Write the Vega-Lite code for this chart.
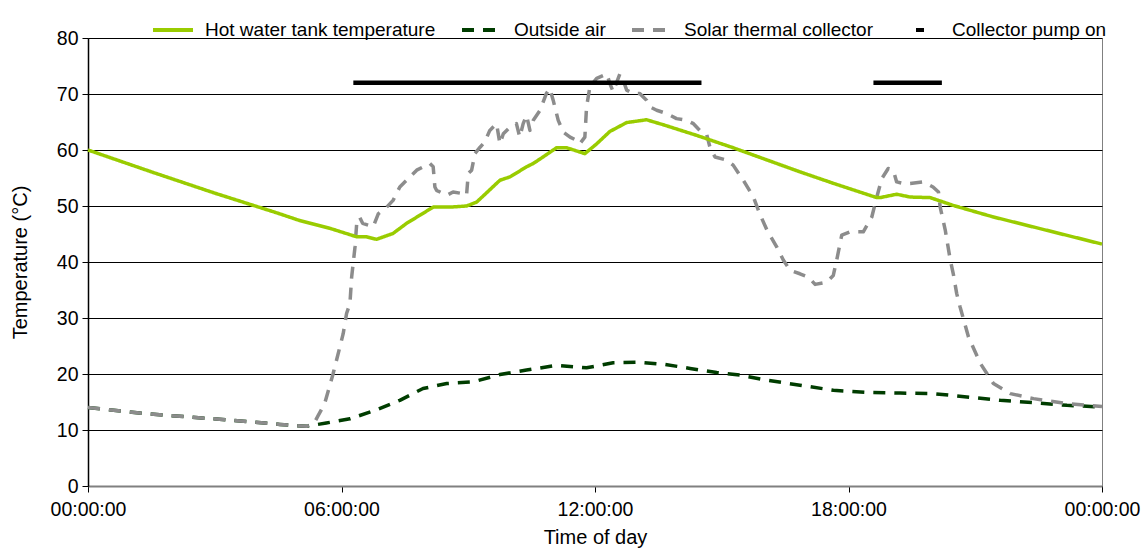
{
  "$schema": "https://vega.github.io/schema/vega-lite/v6.json",
  "width": 1014,
  "height": 448,
  "autosize": "none",
  "padding": {"left": 88, "top": 38, "right": 45, "bottom": 65},
  "background": "white",
  "config": {
    "font": "Liberation Sans",
    "view": {"stroke": "#808080", "strokeWidth": 1},
    "axis": {"labelFont": "Liberation Sans", "titleFont": "Liberation Sans", "labelFontSize": 19.5, "titleFontSize": 20, "labelColor": "#000", "titleColor": "#000", "titleFontWeight": "normal", "tickColor": "#000", "domainColor": "#000", "gridColor": "#000", "gridWidth": 1, "gridOpacity": 1, "tickSize": 6}
  },
  "datasets": {
    "temps": [
      {"series": "Outside air", "h": 0, "v": 14.0},
      {"series": "Outside air", "h": 1.38, "v": 12.9},
      {"series": "Outside air", "h": 2.96, "v": 12.0},
      {"series": "Outside air", "h": 4.54, "v": 11.0},
      {"series": "Outside air", "h": 5.17, "v": 10.66},
      {"series": "Outside air", "h": 5.64, "v": 11.25},
      {"series": "Outside air", "h": 6.2, "v": 12.0},
      {"series": "Outside air", "h": 6.83, "v": 13.6},
      {"series": "Outside air", "h": 7.38, "v": 15.3},
      {"series": "Outside air", "h": 7.93, "v": 17.4},
      {"series": "Outside air", "h": 8.49, "v": 18.3},
      {"series": "Outside air", "h": 9.12, "v": 18.6},
      {"series": "Outside air", "h": 9.75, "v": 19.9},
      {"series": "Outside air", "h": 10.38, "v": 20.7},
      {"series": "Outside air", "h": 11.09, "v": 21.55},
      {"series": "Outside air", "h": 11.8, "v": 21.1},
      {"series": "Outside air", "h": 12.43, "v": 22.0},
      {"series": "Outside air", "h": 13.06, "v": 22.1},
      {"series": "Outside air", "h": 13.66, "v": 21.7},
      {"series": "Outside air", "h": 14.25, "v": 21.0},
      {"series": "Outside air", "h": 14.88, "v": 20.25},
      {"series": "Outside air", "h": 15.43, "v": 19.8},
      {"series": "Outside air", "h": 16.07, "v": 18.9},
      {"series": "Outside air", "h": 16.85, "v": 18.0},
      {"series": "Outside air", "h": 17.64, "v": 17.1},
      {"series": "Outside air", "h": 18.43, "v": 16.7},
      {"series": "Outside air", "h": 19.22, "v": 16.6},
      {"series": "Outside air", "h": 20.0, "v": 16.5},
      {"series": "Outside air", "h": 20.8, "v": 15.9},
      {"series": "Outside air", "h": 21.59, "v": 15.3},
      {"series": "Outside air", "h": 22.38, "v": 14.9},
      {"series": "Outside air", "h": 23.17, "v": 14.4},
      {"series": "Outside air", "h": 24, "v": 14.1},

      {"series": "Solar thermal collector", "h": 0, "v": 14.0},
      {"series": "Solar thermal collector", "h": 1.38, "v": 12.9},
      {"series": "Solar thermal collector", "h": 2.96, "v": 12.0},
      {"series": "Solar thermal collector", "h": 4.54, "v": 11.0},
      {"series": "Solar thermal collector", "h": 5.17, "v": 10.66},
      {"series": "Solar thermal collector", "h": 5.35, "v": 11.2},
      {"series": "Solar thermal collector", "h": 5.45, "v": 12.6},
      {"series": "Solar thermal collector", "h": 5.6, "v": 14.7},
      {"series": "Solar thermal collector", "h": 5.8, "v": 20.0},
      {"series": "Solar thermal collector", "h": 6.04, "v": 27.2},
      {"series": "Solar thermal collector", "h": 6.12, "v": 30.8},
      {"series": "Solar thermal collector", "h": 6.2, "v": 32.6},
      {"series": "Solar thermal collector", "h": 6.24, "v": 37.3},
      {"series": "Solar thermal collector", "h": 6.32, "v": 42.7},
      {"series": "Solar thermal collector", "h": 6.36, "v": 46.9},
      {"series": "Solar thermal collector", "h": 6.43, "v": 48.0},
      {"series": "Solar thermal collector", "h": 6.5, "v": 46.9},
      {"series": "Solar thermal collector", "h": 6.75, "v": 46.3},
      {"series": "Solar thermal collector", "h": 6.87, "v": 48.6},
      {"series": "Solar thermal collector", "h": 7.07, "v": 49.8},
      {"series": "Solar thermal collector", "h": 7.22, "v": 51.0},
      {"series": "Solar thermal collector", "h": 7.38, "v": 53.4},
      {"series": "Solar thermal collector", "h": 7.54, "v": 54.6},
      {"series": "Solar thermal collector", "h": 7.78, "v": 56.4},
      {"series": "Solar thermal collector", "h": 8.09, "v": 57.6},
      {"series": "Solar thermal collector", "h": 8.17, "v": 57.0},
      {"series": "Solar thermal collector", "h": 8.21, "v": 53.4},
      {"series": "Solar thermal collector", "h": 8.25, "v": 52.8},
      {"series": "Solar thermal collector", "h": 8.49, "v": 51.9},
      {"series": "Solar thermal collector", "h": 8.64, "v": 52.5},
      {"series": "Solar thermal collector", "h": 8.88, "v": 52.2},
      {"series": "Solar thermal collector", "h": 8.96, "v": 51.9},
      {"series": "Solar thermal collector", "h": 9.0, "v": 55.8},
      {"series": "Solar thermal collector", "h": 9.08, "v": 56.4},
      {"series": "Solar thermal collector", "h": 9.16, "v": 59.4},
      {"series": "Solar thermal collector", "h": 9.28, "v": 60.5},
      {"series": "Solar thermal collector", "h": 9.39, "v": 61.4},
      {"series": "Solar thermal collector", "h": 9.51, "v": 63.5},
      {"series": "Solar thermal collector", "h": 9.67, "v": 64.7},
      {"series": "Solar thermal collector", "h": 9.75, "v": 61.1},
      {"series": "Solar thermal collector", "h": 9.83, "v": 62.9},
      {"series": "Solar thermal collector", "h": 9.99, "v": 64.1},
      {"series": "Solar thermal collector", "h": 10.14, "v": 64.7},
      {"series": "Solar thermal collector", "h": 10.22, "v": 62.3},
      {"series": "Solar thermal collector", "h": 10.3, "v": 64.7},
      {"series": "Solar thermal collector", "h": 10.38, "v": 66.2},
      {"series": "Solar thermal collector", "h": 10.46, "v": 63.5},
      {"series": "Solar thermal collector", "h": 10.54, "v": 65.3},
      {"series": "Solar thermal collector", "h": 10.7, "v": 67.1},
      {"series": "Solar thermal collector", "h": 10.85, "v": 70.1},
      {"series": "Solar thermal collector", "h": 10.93, "v": 71.0},
      {"series": "Solar thermal collector", "h": 11.01, "v": 68.9},
      {"series": "Solar thermal collector", "h": 11.13, "v": 65.3},
      {"series": "Solar thermal collector", "h": 11.25, "v": 63.2},
      {"series": "Solar thermal collector", "h": 11.41, "v": 62.3},
      {"series": "Solar thermal collector", "h": 11.57, "v": 61.7},
      {"series": "Solar thermal collector", "h": 11.64, "v": 61.1},
      {"series": "Solar thermal collector", "h": 11.76, "v": 62.3},
      {"series": "Solar thermal collector", "h": 11.8, "v": 67.7},
      {"series": "Solar thermal collector", "h": 11.88, "v": 71.3},
      {"series": "Solar thermal collector", "h": 12.04, "v": 72.8},
      {"series": "Solar thermal collector", "h": 12.28, "v": 73.6},
      {"series": "Solar thermal collector", "h": 12.35, "v": 71.9},
      {"series": "Solar thermal collector", "h": 12.43, "v": 70.4},
      {"series": "Solar thermal collector", "h": 12.59, "v": 73.6},
      {"series": "Solar thermal collector", "h": 12.67, "v": 72.4},
      {"series": "Solar thermal collector", "h": 12.75, "v": 70.7},
      {"series": "Solar thermal collector", "h": 12.9, "v": 70.1},
      {"series": "Solar thermal collector", "h": 13.06, "v": 70.1},
      {"series": "Solar thermal collector", "h": 13.22, "v": 68.9},
      {"series": "Solar thermal collector", "h": 13.3, "v": 67.7},
      {"series": "Solar thermal collector", "h": 13.46, "v": 67.1},
      {"series": "Solar thermal collector", "h": 13.7, "v": 66.5},
      {"series": "Solar thermal collector", "h": 13.93, "v": 65.6},
      {"series": "Solar thermal collector", "h": 14.17, "v": 65.3},
      {"series": "Solar thermal collector", "h": 14.33, "v": 64.7},
      {"series": "Solar thermal collector", "h": 14.48, "v": 63.5},
      {"series": "Solar thermal collector", "h": 14.64, "v": 62.9},
      {"series": "Solar thermal collector", "h": 14.72, "v": 60.5},
      {"series": "Solar thermal collector", "h": 14.84, "v": 58.75},
      {"series": "Solar thermal collector", "h": 15.12, "v": 58.2},
      {"series": "Solar thermal collector", "h": 15.27, "v": 57.3},
      {"series": "Solar thermal collector", "h": 15.51, "v": 54.6},
      {"series": "Solar thermal collector", "h": 15.75, "v": 51.6},
      {"series": "Solar thermal collector", "h": 15.9, "v": 48.6},
      {"series": "Solar thermal collector", "h": 16.07, "v": 45.7},
      {"series": "Solar thermal collector", "h": 16.3, "v": 42.7},
      {"series": "Solar thermal collector", "h": 16.46, "v": 40.3},
      {"series": "Solar thermal collector", "h": 16.62, "v": 38.5},
      {"series": "Solar thermal collector", "h": 16.85, "v": 37.9},
      {"series": "Solar thermal collector", "h": 17.05, "v": 37.3},
      {"series": "Solar thermal collector", "h": 17.21, "v": 36.0},
      {"series": "Solar thermal collector", "h": 17.48, "v": 36.4},
      {"series": "Solar thermal collector", "h": 17.64, "v": 37.6},
      {"series": "Solar thermal collector", "h": 17.72, "v": 40.3},
      {"series": "Solar thermal collector", "h": 17.84, "v": 44.8},
      {"series": "Solar thermal collector", "h": 18.04, "v": 45.4},
      {"series": "Solar thermal collector", "h": 18.35, "v": 45.4},
      {"series": "Solar thermal collector", "h": 18.55, "v": 48.0},
      {"series": "Solar thermal collector", "h": 18.67, "v": 51.6},
      {"series": "Solar thermal collector", "h": 18.79, "v": 54.9},
      {"series": "Solar thermal collector", "h": 18.94, "v": 56.7},
      {"series": "Solar thermal collector", "h": 19.06, "v": 56.4},
      {"series": "Solar thermal collector", "h": 19.14, "v": 54.3},
      {"series": "Solar thermal collector", "h": 19.3, "v": 54.0},
      {"series": "Solar thermal collector", "h": 19.46, "v": 54.0},
      {"series": "Solar thermal collector", "h": 19.77, "v": 54.3},
      {"series": "Solar thermal collector", "h": 20.0, "v": 53.4},
      {"series": "Solar thermal collector", "h": 20.13, "v": 52.5},
      {"series": "Solar thermal collector", "h": 20.17, "v": 49.8},
      {"series": "Solar thermal collector", "h": 20.29, "v": 45.7},
      {"series": "Solar thermal collector", "h": 20.41, "v": 40.3},
      {"series": "Solar thermal collector", "h": 20.48, "v": 37.9},
      {"series": "Solar thermal collector", "h": 20.56, "v": 34.4},
      {"series": "Solar thermal collector", "h": 20.64, "v": 32.0},
      {"series": "Solar thermal collector", "h": 20.84, "v": 26.6},
      {"series": "Solar thermal collector", "h": 21.12, "v": 21.9},
      {"series": "Solar thermal collector", "h": 21.43, "v": 18.3},
      {"series": "Solar thermal collector", "h": 21.83, "v": 16.5},
      {"series": "Solar thermal collector", "h": 22.38, "v": 15.6},
      {"series": "Solar thermal collector", "h": 23.17, "v": 14.7},
      {"series": "Solar thermal collector", "h": 24, "v": 14.2},

      {"series": "Hot water tank temperature", "h": 0, "v": 60.0},
      {"series": "Hot water tank temperature", "h": 1.5, "v": 56.1},
      {"series": "Hot water tank temperature", "h": 3.0, "v": 52.3},
      {"series": "Hot water tank temperature", "h": 4.5, "v": 48.7},
      {"series": "Hot water tank temperature", "h": 5.01, "v": 47.4},
      {"series": "Hot water tank temperature", "h": 5.73, "v": 46.0},
      {"series": "Hot water tank temperature", "h": 6.36, "v": 44.5},
      {"series": "Hot water tank temperature", "h": 6.59, "v": 44.5},
      {"series": "Hot water tank temperature", "h": 6.83, "v": 44.05},
      {"series": "Hot water tank temperature", "h": 7.22, "v": 45.1},
      {"series": "Hot water tank temperature", "h": 7.54, "v": 46.9},
      {"series": "Hot water tank temperature", "h": 8.17, "v": 49.8},
      {"series": "Hot water tank temperature", "h": 8.57, "v": 49.8},
      {"series": "Hot water tank temperature", "h": 8.96, "v": 50.0},
      {"series": "Hot water tank temperature", "h": 9.2, "v": 50.7},
      {"series": "Hot water tank temperature", "h": 9.75, "v": 54.6},
      {"series": "Hot water tank temperature", "h": 9.99, "v": 55.2},
      {"series": "Hot water tank temperature", "h": 10.38, "v": 57.0},
      {"series": "Hot water tank temperature", "h": 10.54, "v": 57.6},
      {"series": "Hot water tank temperature", "h": 10.77, "v": 58.75},
      {"series": "Hot water tank temperature", "h": 11.09, "v": 60.4},
      {"series": "Hot water tank temperature", "h": 11.33, "v": 60.4},
      {"series": "Hot water tank temperature", "h": 11.76, "v": 59.35},
      {"series": "Hot water tank temperature", "h": 12.04, "v": 61.1},
      {"series": "Hot water tank temperature", "h": 12.35, "v": 63.3},
      {"series": "Hot water tank temperature", "h": 12.75, "v": 64.9},
      {"series": "Hot water tank temperature", "h": 13.22, "v": 65.4},
      {"series": "Hot water tank temperature", "h": 13.62, "v": 64.5},
      {"series": "Hot water tank temperature", "h": 14.41, "v": 62.6},
      {"series": "Hot water tank temperature", "h": 15.27, "v": 60.4},
      {"series": "Hot water tank temperature", "h": 16.85, "v": 56.1},
      {"series": "Hot water tank temperature", "h": 17.7, "v": 53.9},
      {"series": "Hot water tank temperature", "h": 18.67, "v": 51.5},
      {"series": "Hot water tank temperature", "h": 18.75, "v": 51.5},
      {"series": "Hot water tank temperature", "h": 19.14, "v": 52.1},
      {"series": "Hot water tank temperature", "h": 19.46, "v": 51.6},
      {"series": "Hot water tank temperature", "h": 19.93, "v": 51.5},
      {"series": "Hot water tank temperature", "h": 20.09, "v": 51.1},
      {"series": "Hot water tank temperature", "h": 20.48, "v": 50.1},
      {"series": "Hot water tank temperature", "h": 21.4, "v": 48.1},
      {"series": "Hot water tank temperature", "h": 22.38, "v": 46.25},
      {"series": "Hot water tank temperature", "h": 24, "v": 43.2}
    ],
    "pump": [
      {"series": "Collector pump on", "start": 6.28, "end": 14.52, "v": 72},
      {"series": "Collector pump on", "start": 18.59, "end": 20.21, "v": 72}
    ]
  },
  "layer": [
    {
      "data": {"name": "temps"},
      "mark": {"type": "line", "strokeWidth": 3.5, "strokeCap": "butt", "strokeJoin": "round"},
      "encoding": {
        "x": {
          "field": "h", "type": "quantitative",
          "scale": {"domain": [0, 24], "nice": false},
          "axis": {
            "title": "Time of day", "values": [0, 6, 12, 18, 24], "grid": false,
            "labelExpr": "(datum.value % 24 < 10 ? '0' : '') + (datum.value % 24) + ':00:00'",
            "domainColor": "#808080", "domainWidth": 2, "tickColor": "#000",
            "labelPadding": 8, "titlePadding": 9, "labelFlush": false
          }
        },
        "y": {
          "field": "v", "type": "quantitative",
          "scale": {"domain": [0, 80], "nice": false},
          "axis": {
            "title": "Temperature (°C)", "values": [0, 10, 20, 30, 40, 50, 60, 70, 80],
            "grid": true, "labelPadding": 4, "titlePadding": 26, "domainWidth": 1.5
          }
        },
        "color": {
          "field": "series", "type": "nominal",
          "scale": {
            "domain": ["Hot water tank temperature", "Outside air", "Solar thermal collector", "Collector pump on"],
            "range": ["#99cc00", "#003d00", "#8c8c8c", "#000000"]
          },
          "legend": {
            "orient": "none", "legendX": 63, "legendY": -30, "direction": "horizontal",
            "title": null, "symbolType": "stroke", "symbolSize": 1600, "symbolStrokeWidth": 4,
            "labelFontSize": 19, "labelFont": "Liberation Sans", "labelColor": "#000",
            "labelOffset": 10, "columnPadding": 18, "labelLimit": 400
          }
        },
        "strokeDash": {
          "field": "series", "type": "nominal",
          "scale": {
            "domain": ["Hot water tank temperature", "Outside air", "Solar thermal collector", "Collector pump on"],
            "range": [[1, 0], [12, 9], [12, 9], [0, 16, 8, 100]]
          },
          "legend": {
            "orient": "none", "legendX": 63, "legendY": -30, "direction": "horizontal",
            "title": null, "symbolType": "stroke", "symbolSize": 1600, "symbolStrokeWidth": 4,
            "labelFontSize": 19, "labelFont": "Liberation Sans", "labelColor": "#000",
            "labelOffset": 10, "columnPadding": 18, "labelLimit": 400
          }
        }
      }
    },
    {
      "data": {"name": "pump"},
      "mark": {"type": "rule", "strokeWidth": 4.5},
      "encoding": {
        "x": {"field": "start", "type": "quantitative"},
        "x2": {"field": "end"},
        "y": {"field": "v", "type": "quantitative"},
        "color": {"field": "series", "type": "nominal"}
      }
    }
  ]
}
